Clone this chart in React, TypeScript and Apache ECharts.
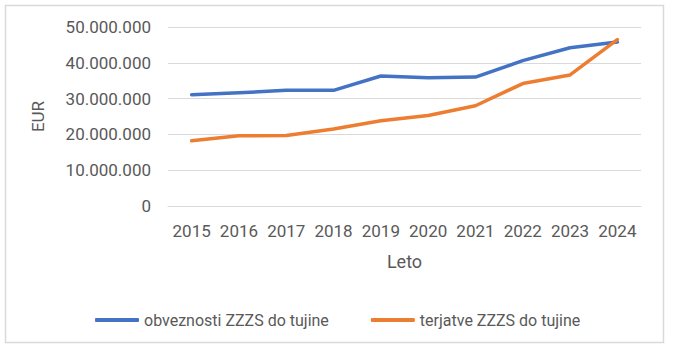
import React, { useEffect, useRef } from "react";
import * as echarts from "echarts";

const years = ["2015", "2016", "2017", "2018", "2019", "2020", "2021", "2022", "2023", "2024"];
const obveznosti = [31100000, 31600000, 32300000, 32300000, 36300000, 35800000, 36000000, 40600000, 44200000, 45800000];
const terjatve = [18200000, 19600000, 19700000, 21500000, 23800000, 25300000, 28000000, 34200000, 36600000, 46500000];
const seriesNames = ["obveznosti ZZZS do tujine", "terjatve ZZZS do tujine"];

const fmt = (v: number) => {
  if (v === 0) return "0";
  return String(Math.round(v)).replace(/\B(?=(\d{3})+(?!\d))/g, ".");
};

export default function App() {
  const ref = useRef<HTMLDivElement>(null);
  useEffect(() => {
    if (!ref.current) return;
    const chart = echarts.init(ref.current, undefined, { renderer: "svg" });
    const font = "Roboto";
    const grey = "#595959";
    chart.setOption({
      animation: false,
      backgroundColor: "#ffffff",
      textStyle: { fontFamily: font },
      graphic: [
        {
          type: "rect",
          shape: { x: 5.5, y: 5.5, width: 658, height: 337 },
          style: { fill: "none", stroke: "#d9d9d9", lineWidth: 1.5 },
          silent: true,
        },
      ],
      grid: { left: 168, right: 32, top: 27, bottom: 147, containLabel: false },
      legend: {
        data: seriesNames,
        left: 90,
        top: 307,
        icon: "roundRect",
        itemWidth: 44,
        itemHeight: 4,
        itemGap: 42,
        textStyle: { color: grey, fontSize: 16, fontFamily: font },
      },
      xAxis: {
        type: "category",
        data: years,
        boundaryGap: true,
        name: "Leto",
        nameLocation: "middle",
        nameGap: 46,
        nameTextStyle: { color: grey, fontSize: 18, fontFamily: font },
        axisLine: { show: true, lineStyle: { color: "#d9d9d9", width: 1 } },
        axisTick: { show: false },
        axisLabel: { color: grey, fontSize: 17, margin: 16, fontFamily: font, interval: 0, hideOverlap: false },
      },
      yAxis: {
        type: "value",
        min: 0,
        max: 50000000,
        interval: 10000000,
        name: "EUR",
        nameLocation: "middle",
        nameGap: 122,
        nameRotate: 90,
        nameTextStyle: { color: grey, fontSize: 17, fontFamily: font },
        axisLine: { show: false },
        axisTick: { show: false },
        splitLine: { lineStyle: { color: "#d9d9d9", width: 1 } },
        axisLabel: { color: grey, fontSize: 17, margin: 17, fontFamily: font, formatter: fmt },
      },
      series: [
        {
          name: seriesNames[0],
          type: "line",
          data: obveznosti,
          showSymbol: false,
          symbol: "none",
          lineStyle: { color: "#4472C4", width: 3.5, cap: "round", join: "round" },
          itemStyle: { color: "#4472C4" },
        },
        {
          name: seriesNames[1],
          type: "line",
          data: terjatve,
          showSymbol: false,
          symbol: "none",
          lineStyle: { color: "#ED7D31", width: 3.5, cap: "round", join: "round" },
          itemStyle: { color: "#ED7D31" },
        },
      ],
    });
    return () => chart.dispose();
  }, []);
  return (
    <div
      ref={ref}
      style={{ position: "fixed", left: 0, top: 0, width: 673, height: 353, background: "#fff" }}
    />
  );
}
